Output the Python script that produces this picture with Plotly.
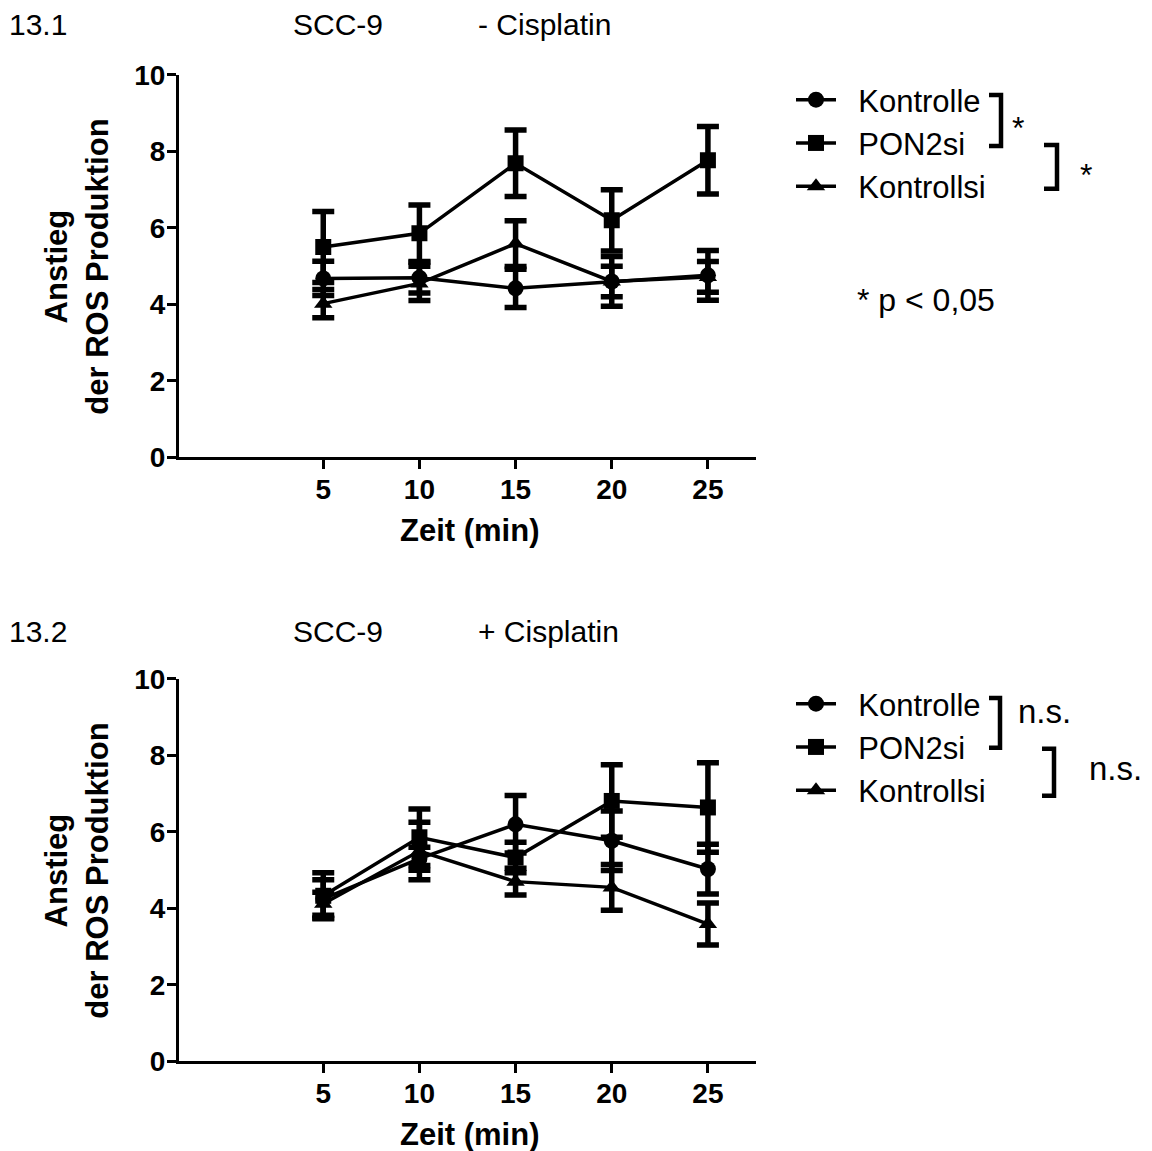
import plotly.graph_objects as go

W, H = 1152, 1151

# ---- data ----
time_min = [5, 10, 15, 20, 25]
series_names = ["Kontrolle", "PON2si", "Kontrollsi"]

# 13.1  SCC-9  - Cisplatin
top_kontrolle = [4.68, 4.70, 4.42, 4.60, 4.76]
top_kontrolle_err = [0.45, 0.40, 0.50, 0.65, 0.65]
top_pon2si = [5.50, 5.86, 7.69, 6.20, 7.77]
top_pon2si_err = [0.93, 0.74, 0.87, 0.80, 0.88]
top_kontrollsi = [4.02, 4.55, 5.59, 4.60, 4.72]
top_kontrollsi_err = [0.37, 0.45, 0.60, 0.40, 0.40]

# 13.2  SCC-9  + Cisplatin
bot_kontrolle = [4.25, 5.30, 6.20, 5.77, 5.03]
bot_kontrolle_err = [0.50, 0.30, 0.75, 0.78, 0.65]
bot_pon2si = [4.33, 5.86, 5.33, 6.81, 6.64]
bot_pon2si_err = [0.60, 0.74, 0.40, 0.95, 1.17]
bot_kontrollsi = [4.12, 5.50, 4.70, 4.55, 3.59]
bot_kontrollsi_err = [0.30, 0.75, 0.35, 0.60, 0.55]

x_ticks = [5, 10, 15, 20, 25]
y_ticks = [0, 2, 4, 6, 8, 10]

symbols = ["circle", "square", "triangle-up"]

FONT = "Liberation Sans, Arial, sans-serif"


def px(x):
    return x / W


def py(y):
    # map a target on-screen y position to paper coordinates
    yi = (y - 14.9) / 0.9747
    return 1 - yi / H


fig = go.Figure()

panels = [
    ("x", "y", "legend", [(top_kontrolle, top_kontrolle_err), (top_pon2si, top_pon2si_err),
                          (top_kontrollsi, top_kontrollsi_err)]),
    ("x2", "y2", "legend2", [(bot_kontrolle, bot_kontrolle_err), (bot_pon2si, bot_pon2si_err),
                             (bot_kontrollsi, bot_kontrollsi_err)]),
]

for xa, ya, lg, data in panels:
    for i, (vals, errs) in enumerate(data):
        fig.add_trace(go.Scatter(
            x=time_min, y=vals, xaxis=xa, yaxis=ya,
            name="\u00a0\u00a0" + series_names[i], legend=lg,
            mode="lines+markers",
            line=dict(color="black", width=3.5),
            marker=dict(symbol=symbols[i], size=16, color="black"),
            error_y=dict(type="data", array=errs, visible=True, color="black",
                         thickness=5.5, width=11),
        ))

tickfont = dict(family=FONT, size=28, color="black", weight="bold")
axis_common = dict(showline=True, linecolor="black", linewidth=3, ticks="outside",
                   ticklen=9, tickwidth=3, tickcolor="black", showgrid=False,
                   zeroline=False, tickfont=tickfont)

legend_common = dict(xanchor="left", yanchor="top",
                     font=dict(family=FONT, size=31, color="black"),
                     bgcolor="rgba(0,0,0,0)", itemwidth=40)

fig.update_layout(
    width=W, height=H, autosize=False,
    margin=dict(l=0, r=0, t=0, b=0),
    paper_bgcolor="white", plot_bgcolor="white",
    font=dict(family=FONT, color="black"),
    xaxis=dict(domain=[px(179), px(756)], range=[-2.5, 27.5], anchor="y",
               tickvals=x_ticks, ticklabelstandoff=-4, **axis_common),
    yaxis=dict(domain=[py(458), py(75)], range=[0, 10], anchor="x",
               tickvals=y_ticks, ticklabelstandoff=-4, **axis_common),
    xaxis2=dict(domain=[px(179), px(756)], range=[-2.5, 27.5], anchor="y2",
                tickvals=x_ticks, ticklabelstandoff=-4, **axis_common),
    yaxis2=dict(domain=[py(1063), py(680)], range=[0, 10], anchor="x2",
                tickvals=y_ticks, ticklabelstandoff=-4, **axis_common),
    legend=dict(x=px(791), y=py(73), **legend_common),
    legend2=dict(x=px(791), y=py(678), **legend_common),
    showlegend=True,
)

reg = dict(family=FONT, size=30, color="black")
bold = dict(family=FONT, size=31, color="black")

ann = []


def add_text(x, y, text, font, xanchor="left", textangle=0):
    ann.append(dict(x=px(x), y=py(y), xref="paper", yref="paper", text=text,
                    showarrow=False, xanchor=xanchor, yanchor="middle",
                    font=font, textangle=textangle))


# headers
add_text(7, 24, "13.1", reg)
add_text(291, 24, "SCC-9", reg)
add_text(476, 24, "- Cisplatin", reg)
add_text(7, 632, "13.2", reg)
add_text(291, 632, "SCC-9", reg)
add_text(476, 632, "+ Cisplatin", reg)

# axis titles
add_text(470, 531, "<b>Zeit (min)</b>", bold, xanchor="center")
add_text(470, 1136, "<b>Zeit (min)</b>", bold, xanchor="center")
add_text(77, 267, "<b>Anstieg<br>der ROS Produktion</b>", bold, xanchor="center", textangle=-90)
add_text(77, 872, "<b>Anstieg<br>der ROS Produktion</b>", bold, xanchor="center", textangle=-90)

# significance marks
add_text(1010, 128, "*", dict(reg, size=32))
add_text(1078, 175, "*", dict(reg, size=32))
add_text(855, 300, "* p &lt; 0,05", dict(reg, size=32))
add_text(1016, 713, "n.s.", dict(reg, size=33))
add_text(1087, 770, "n.s.", dict(reg, size=33))

fig.update_layout(annotations=ann)

shapes = []


def bracket(x_left, x_right, y_top, y_bot):
    path = (f"M {px(x_left)},{py(y_top)} L {px(x_right)},{py(y_top)} "
            f"L {px(x_right)},{py(y_bot)} L {px(x_left)},{py(y_bot)}")
    shapes.append(dict(type="path", path=path, xref="paper", yref="paper",
                       line=dict(color="black", width=4.5)))


bracket(989, 1001, 95, 146)
bracket(1044, 1057, 145, 189)
bracket(989, 1000, 699, 749)
bracket(1042, 1054, 750, 797)

fig.update_layout(shapes=shapes)

fig.write_html("out.html")
